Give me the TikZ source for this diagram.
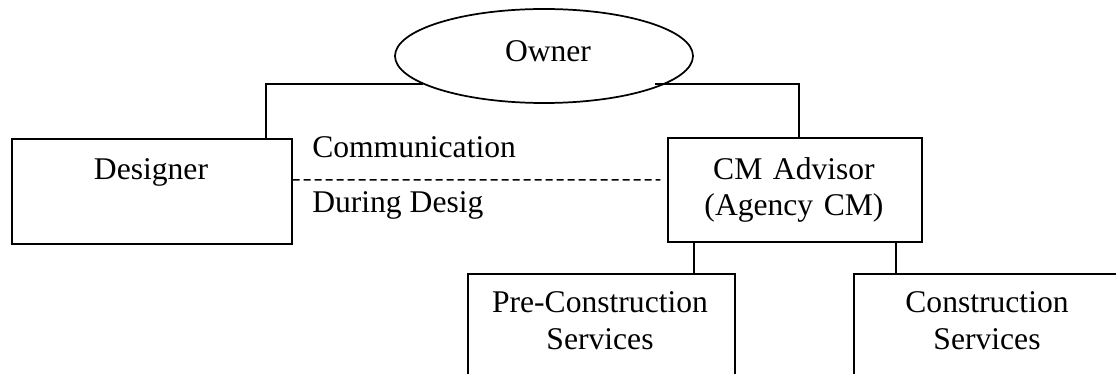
\documentclass[tikz,border=0pt]{standalone}
\usepackage{fontspec}
\setmainfont{Liberation Serif}
\usetikzlibrary{shapes.geometric}

\tikzset{
  orgbox/.style={draw, rectangle, line width=1.3pt, inner sep=0pt, anchor=north west},
  txt/.style={font=\fontsize{23.7}{27.75}\selectfont, inner sep=0pt, anchor=base},
  link/.style={line width=1.3pt},
}

\begin{document}
\begin{tikzpicture}[x=0.75pt,y=-0.75pt]
\useasboundingbox (0,0) rectangle (1116,374);

% owner on top
\node[draw, ellipse, line width=1.3pt, inner sep=0pt, minimum width=223.5pt, minimum height=70.5pt] (owner) at (544,56) {};
\node[txt] (ownertxt) at (548,62) {Owner};

% boxes
\node[orgbox, minimum width=210pt, minimum height=78.75pt] (designer) at (11,138) {};
\node[orgbox, minimum width=190.5pt, minimum height=78pt] (cm) at (667,137) {};
\node[orgbox, minimum width=200.25pt, minimum height=78.75pt] (pre) at (467,273) {};
\node[orgbox, minimum width=201pt, minimum height=78.75pt] (cons) at (853,273) {};

\node[txt] (designertxt) at (151,179) {Designer};
\node[txt, align=center, text width=185pt] (cmtxt) at (794,179) {CM Advisor\\(Agency CM)};
\node[txt, align=center, text width=195pt] (pretxt) at (600,312) {Pre-Construction\\Services};
\node[txt, align=center, text width=195pt] (constxt) at (987,312) {Construction\\Services};

% dashed link and its words
\node[txt, anchor=base west] (comm) at (312,157) {Communication};
\node[txt, anchor=base west] (during) at (312,212) {During Desig};
\draw[link, line width=1pt, dash pattern=on 5.25pt off 3pt] ([yshift=8.6pt]designer.east) -- ([yshift=7.5pt,xshift=-5pt]cm.west);

% tree lines
\coordinate (desup) at ([xshift=-20.25pt]designer.north east);
\coordinate (cmup) at ([xshift=3pt]cm.north);
\coordinate (prelink) at ([xshift=20.25pt]cm.south west);
\coordinate (conslink) at ([xshift=-20.25pt]cm.south east);
\draw[link] (owner.193.2) -| (desup);
\draw[link] ([xshift=-7.5pt]owner.-13.2) -| (cmup);
\draw[link] (prelink) -- (prelink |- pre.north);
\draw[link] (conslink) -- (conslink |- cons.north);
\end{tikzpicture}
\end{document}
